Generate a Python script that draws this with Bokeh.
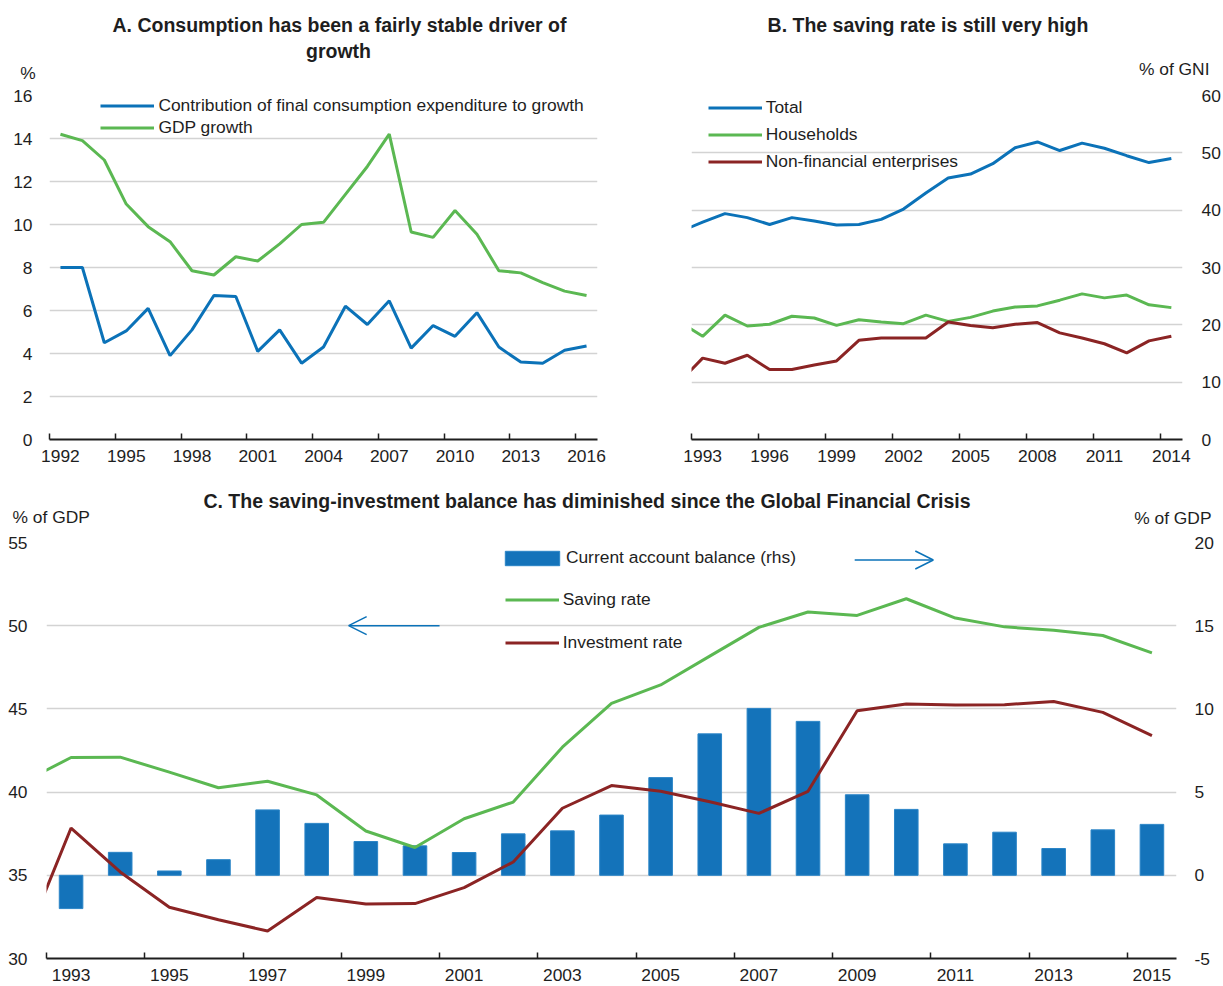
from bokeh.plotting import figure
from bokeh.models import (FixedTicker, Legend, LegendItem, Label, Arrow, OpenHead,
                          LinearAxis, Range1d)
from bokeh.layouts import column, row
from bokeh.embed import file_html
from bokeh.resources import INLINE

# ---------------- Panel A data ----------------
a_years = list(range(1992, 2017))
a_consumption = [8.0, 8.0, 4.5, 5.05, 6.1, 3.9, 5.1, 6.7, 6.65, 4.1, 5.1, 3.55, 4.3,
                 6.2, 5.35, 6.45, 4.25, 5.3, 4.8, 5.9, 4.3, 3.6, 3.55, 4.15, 4.35]
a_gdp = [14.2, 13.9, 13.0, 10.95, 9.9, 9.2, 7.85, 7.65, 8.5, 8.3, 9.1, 10.0, 10.1,
         11.4, 12.7, 14.2, 9.65, 9.4, 10.65, 9.55, 7.85, 7.75, 7.3, 6.9, 6.7]
a_xtick_years = [1992, 1995, 1998, 2001, 2004, 2007, 2010, 2013, 2016]
a_yticks = [0, 2, 4, 6, 8, 10, 12, 14, 16]

# ---------------- Panel B data ----------------
b_years = list(range(1992, 2015))
b_total = [36.3, 37.9, 39.4, 38.7, 37.5, 38.7, 38.1, 37.4, 37.5, 38.4, 40.2, 43.0,
           45.6, 46.3, 48.1, 50.9, 51.9, 50.4, 51.7, 50.8, 49.5, 48.3, 49.0]
b_households = [20.4, 18.0, 21.7, 19.8, 20.1, 21.5, 21.2, 19.9, 20.9, 20.5, 20.2, 21.7,
                20.6, 21.3, 22.4, 23.1, 23.3, 24.3, 25.4, 24.7, 25.2, 23.5, 23.0]
b_nonfin = [10.2, 14.2, 13.3, 14.7, 12.2, 12.2, 13.0, 13.7, 17.3, 17.7, 17.7, 17.7,
            20.5, 19.9, 19.5, 20.1, 20.4, 18.6, 17.7, 16.7, 15.1, 17.2, 18.0]
b_xtick_years = [1993, 1996, 1999, 2002, 2005, 2008, 2011, 2014]
b_yticks = [0, 10, 20, 30, 40, 50, 60]

# ---------------- Panel C data ----------------
c_line_years = list(range(1992, 2016))
c_saving = [40.56, 42.08, 42.1, 41.2, 40.26, 40.65, 39.83, 37.66, 36.67, 38.4, 39.4, 42.7,
            45.33, 46.44, 48.17, 49.9, 50.82, 50.62, 51.62, 50.46, 49.93, 49.73, 49.41, 48.37]
c_investment = [30.56, 37.84, 35.2, 33.08, 32.33, 31.65, 33.66, 33.28, 33.3, 34.26, 35.8, 39.03,
                40.39, 40.05, 39.42, 38.72, 40.05, 44.89, 45.29, 45.23, 45.25, 45.45, 44.79, 43.4]
c_bar_years = list(range(1993, 2016))
c_current_account = [-2.0, 1.38, 0.26, 0.94, 3.93, 3.12, 2.03, 1.77, 1.37, 2.49, 2.67, 3.62,
                     5.87, 8.5, 10.03, 9.25, 4.84, 3.96, 1.89, 2.59, 1.61, 2.73, 3.06]
c_xtick_years = [1993, 1995, 1997, 1999, 2001, 2003, 2005, 2007, 2009, 2011, 2013, 2015]
c_left_ticks = [30, 35, 40, 45, 50, 55]
c_right_ticks = [-5, 0, 5, 10, 15, 20]

# ---------------- style ----------------
FONT = "Liberation Sans"
TXT = "#1e1e1e"
AXIS = "#1e1e1e"
GRID = "#d3d3d3"
BLUE = "#0b72b8"
GREEN = "#5bb852"
RED = "#8b2424"
BAR = "#1473ba"
BAR_EDGE = "#2b85c7"
TICK_SIZE = "17.4px"
LEG_SIZE = "17.4px"
TITLE_SIZE = "19.5px"


def header_fig(width, height):
    h = figure(width=width, height=height, x_range=Range1d(0, width), y_range=Range1d(height, 0),
               x_axis_type=None, y_axis_type=None, output_backend="svg", toolbar_location=None,
               min_border=0)
    h.frame_align = False
    h.outline_line_color = None
    h.background_fill_color = "white"
    h.border_fill_color = "white"
    return h


def add_text(h, x, y, text, size, bold=False, align="center"):
    h.add_layout(Label(x=x, y=y, text=text, text_font=FONT, text_font_size=size,
                       text_font_style="bold" if bold else "normal",
                       text_align=align, text_baseline="middle", text_color=TXT))


def make_fig(width, height, borders, xr, yr, y_loc="left"):
    l, r, t, b = borders
    p = figure(width=width, height=height, x_range=Range1d(*xr), y_range=Range1d(*yr),
               output_backend="svg", toolbar_location=None, y_axis_location=y_loc,
               min_border_left=l, min_border_right=r, min_border_top=t, min_border_bottom=b)
    p.outline_line_color = None
    p.background_fill_color = "white"
    p.border_fill_color = "white"
    p.xgrid.visible = False
    return p


def style_x(p, centers, standoff):
    ax = p.xaxis[0]
    bounds = [c - 0.5 for c in centers]
    ax.ticker = FixedTicker(ticks=centers, minor_ticks=bounds)
    ax.major_tick_line_color = None
    ax.major_tick_in = 0
    ax.major_tick_out = 0
    ax.minor_tick_line_color = AXIS
    ax.minor_tick_line_width = 1.5
    ax.minor_tick_in = 6
    ax.minor_tick_out = 0
    ax.axis_line_color = AXIS
    ax.axis_line_width = 2.2
    ax.major_label_text_font = FONT
    ax.major_label_text_font_size = TICK_SIZE
    ax.major_label_text_color = TXT
    ax.major_label_standoff = standoff


def style_y(ax, ticks, standoff):
    ax.ticker = FixedTicker(ticks=ticks)
    ax.axis_line_color = None
    ax.major_tick_line_color = None
    ax.minor_tick_line_color = None
    ax.major_tick_in = 0
    ax.major_tick_out = 0
    ax.major_label_text_font = FONT
    ax.major_label_text_font_size = TICK_SIZE
    ax.major_label_text_color = TXT
    ax.major_label_standoff = standoff
    ax.major_label_overrides = {t: str(t) for t in ticks}


def style_grid(p, ticks):
    p.ygrid.ticker = FixedTicker(ticks=ticks)
    p.ygrid.grid_line_color = GRID
    p.ygrid.grid_line_width = 1.5


def make_legend(items, loc, spacing, glyph_w=54, glyph_h=21, standoff=4):
    return Legend(items=items, location=loc, spacing=spacing, padding=0, margin=0,
                  glyph_width=glyph_w, glyph_height=glyph_h, label_height=21,
                  label_standoff=standoff, label_text_font=FONT,
                  label_text_font_size=LEG_SIZE, label_text_color=TXT,
                  border_line_color=None, background_fill_alpha=0)


# ---------------- Panel A ----------------
hA = header_fig(615, 84)
add_text(hA, 339, 24.8, "A. Consumption has been a fairly stable driver of", TITLE_SIZE, bold=True)
add_text(hA, 338, 50.5, "growth", TITLE_SIZE, bold=True)
add_text(hA, 27.5, 72, "%", TICK_SIZE)

pA = make_fig(615, 395, (49, 18, 11, 40), (1991.5, 2016.5), (0, 16))
style_x(pA, a_xtick_years, 10)
style_y(pA.yaxis[0], a_yticks, 17)
style_grid(pA, a_yticks)
rA1 = pA.line(a_years, a_consumption, line_color=BLUE, line_width=3)
rA2 = pA.line(a_years, a_gdp, line_color=GREEN, line_width=3)
pA.add_layout(make_legend([LegendItem(label="Contribution of final consumption expenditure to growth", renderers=[rA1]),
                           LegendItem(label="GDP growth", renderers=[rA2])],
                          (51.4, 300.8), 1))

# ---------------- Panel B ----------------
hB = header_fig(608, 84)
add_text(hB, 312.5, 24.5, "B. The saving rate is still very high", TITLE_SIZE, bold=True)
add_text(hB, 594, 68.4, "% of GNI", TICK_SIZE, align="right")

pB = make_fig(608, 395, (76, 41, 11, 40), (1992.5, 2014.5), (0, 60), y_loc="right")
style_x(pB, b_xtick_years, 10)
style_y(pB.yaxis[0], b_yticks, 19)
style_grid(pB, b_yticks)
rB1 = pB.line(b_years, b_total, line_color=BLUE, line_width=3)
rB2 = pB.line(b_years, b_households, line_color=GREEN, line_width=3)
rB3 = pB.line(b_years, b_nonfin, line_color=RED, line_width=3)
pB.add_layout(make_legend([LegendItem(label="Total", renderers=[rB1]),
                           LegendItem(label="Households", renderers=[rB2]),
                           LegendItem(label="Non-financial enterprises", renderers=[rB3])],
                          (16.7, 266.8), 6))

# ---------------- Panel C ----------------
hC = header_fig(1223, 51)
add_text(hC, 586.5, 21, "C. The saving-investment balance has diminished since the Global Financial Crisis",
         TITLE_SIZE, bold=True)
add_text(hC, 12, 37, "% of GDP", TICK_SIZE, align="left")
add_text(hC, 1211, 38, "% of GDP", TICK_SIZE, align="right")

pC = make_fig(1223, 456, (46, 47, 12, 28), (1992.5, 2015.5), (c_left_ticks[0], c_left_ticks[-1]))
pC.extra_y_ranges = {"ca": Range1d(c_right_ticks[0], c_right_ticks[-1])}
style_x(pC, c_xtick_years, 10)
style_y(pC.yaxis[0], c_left_ticks, 19)
right_ax = LinearAxis(y_range_name="ca")
style_y(right_ax, c_right_ticks, 18)
pC.add_layout(right_ax, "right")
style_grid(pC, c_left_ticks)
rC_bar = pC.vbar(x=c_bar_years, top=c_current_account, bottom=0, width=0.48,
                 y_range_name="ca", fill_color=BAR, line_color=BAR_EDGE, line_width=1)
rC_sav = pC.line(c_line_years, c_saving, line_color=GREEN, line_width=3)
rC_inv = pC.line(c_line_years, c_investment, line_color=RED, line_width=3)
pC.add_layout(make_legend([LegendItem(label="Current account balance (rhs)", renderers=[rC_bar])],
                          (451.9, 389.7), 0, glyph_w=68, glyph_h=18, standoff=-4))
pC.add_layout(make_legend([LegendItem(label="Saving rate", renderers=[rC_sav]),
                           LegendItem(label="Investment rate", renderers=[rC_inv])],
                          (458.7, 305.2), 22))
pC.add_layout(Arrow(end=OpenHead(size=18, line_color=BLUE, line_width=1.5),
                    x_start=2000.5, y_start=50, x_end=1998.65, y_end=50,
                    line_color=BLUE, line_width=1.5))
pC.add_layout(Arrow(end=OpenHead(size=18, line_color=BLUE, line_width=1.5),
                    x_start=2008.95, y_start=53.95, x_end=2010.55, y_end=53.95,
                    line_color=BLUE, line_width=1.5))

layout = column(row(column(hA, pA), column(hB, pB)), hC, pC)
open("out.html", "w").write(file_html(layout, INLINE))
